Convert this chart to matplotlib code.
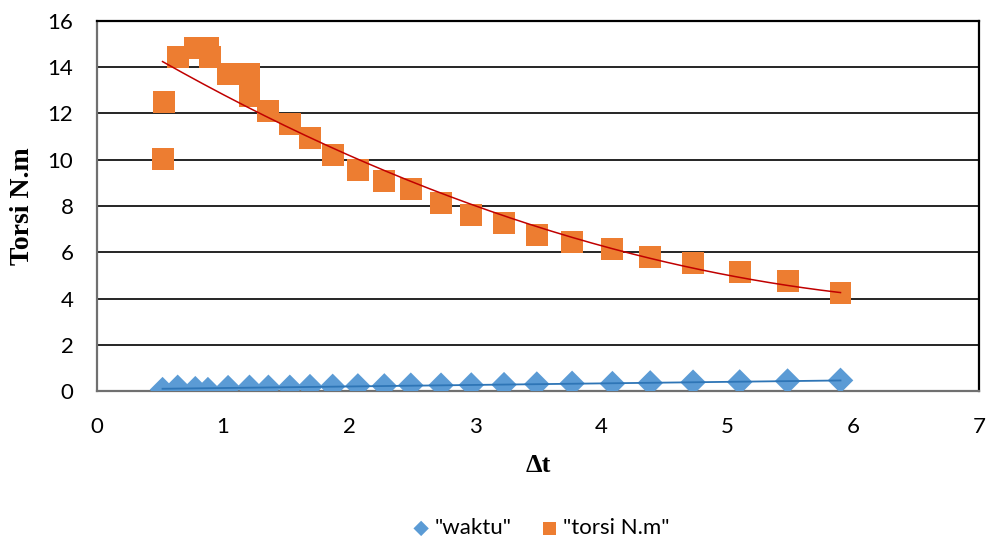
import numpy as np
import matplotlib
matplotlib.use('Agg')
import matplotlib.pyplot as plt

# data
dt_torsi = [0.52, 0.53, 0.64, 0.78, 0.88, 0.90, 1.04, 1.21, 1.21, 1.36, 1.53, 1.69,
            1.87, 2.07, 2.28, 2.49, 2.73, 2.97, 3.23, 3.49, 3.77, 4.09, 4.39, 4.73,
            5.10, 5.48, 5.90]
torsi = [10.04, 12.5, 14.42, 14.81, 14.85, 14.42, 13.72, 13.72, 12.77, 12.12, 11.56, 10.95,
         10.22, 9.57, 9.09, 8.74, 8.14, 7.62, 7.27, 6.75, 6.45, 6.15, 5.80, 5.54,
         5.15, 4.76, 4.24]

dt_waktu = [0.52, 0.64, 0.78, 0.88, 1.04, 1.21, 1.36, 1.53, 1.69, 1.87, 2.07, 2.28,
            2.49, 2.73, 2.97, 3.23, 3.49, 3.77, 4.09, 4.39, 4.73, 5.10, 5.48, 5.90]
waktu = [0.06, 0.16, 0.10, 0.06, 0.145, 0.16, 0.16, 0.16, 0.19, 0.20, 0.22, 0.22,
         0.25, 0.25, 0.26, 0.275, 0.30, 0.33, 0.32, 0.35, 0.38, 0.39, 0.43, 0.46]

blue = '#5b9bd5'
orange = '#ed7d31'
tick_font = 'Lato'

fig = plt.figure(figsize=(9.9, 5.5), dpi=100)
ax = fig.add_axes([0.098, 0.289, 0.891, 0.673])

# trendlines (excel-like): linear for waktu, poly 2 for torsi
xw = np.linspace(min(dt_waktu), max(dt_waktu), 100)
cw = np.polyfit(dt_waktu, waktu, 1)
ax.plot(xw, np.polyval(cw, xw), color='#2e75b6', lw=1.3, zorder=4)

xt = np.linspace(min(dt_torsi), max(dt_torsi), 200)
ct = np.polyfit(dt_torsi, torsi, 2)

ax.scatter(dt_waktu, waktu, marker='D', s=170, color=blue, edgecolors='none',
           zorder=3, label='"waktu"')
ax.scatter(dt_torsi, torsi, marker='s', s=250, color=orange, edgecolors='none',
           zorder=3, label='"torsi N.m"')
ax.plot(xt, np.polyval(ct, xt), color='#c00000', lw=1.1, zorder=4)

ax.set_xlim(0, 7)
ax.set_ylim(0, 16)
ax.set_xticks(range(0, 8))
ax.set_yticks(range(0, 17, 2))
ax.grid(axis='y', color='black', lw=1.2, zorder=0)
ax.set_axisbelow(True)
ax.tick_params(length=0, labelsize=16)
ax.tick_params(axis='x', pad=19)
ax.tick_params(axis='y', pad=17)
for lab in ax.get_xticklabels() + ax.get_yticklabels():
    lab.set_family(tick_font)

for s in ['left', 'bottom']:
    ax.spines[s].set_color('#707070')
    ax.spines[s].set_linewidth(1.6)
for s in ['top', 'right']:
    ax.spines[s].set_color('black')
    ax.spines[s].set_linewidth(1.6)

ax.set_xlabel('Δt', family='Liberation Serif', fontweight='bold', fontsize=19, labelpad=12)
ax.set_ylabel('Torsi N.m', family='Liberation Serif', fontweight='bold', fontsize=20, labelpad=9)

leg = fig.legend(loc='lower center', bbox_to_anchor=(0.545, -0.015), ncol=2, frameon=False,
                 prop={'family': tick_font, 'size': 16}, handletextpad=0.1,
                 handlelength=1.0, columnspacing=1.2, scatterpoints=1, markerscale=0.6)

fig.savefig('out.png', dpi=100)
